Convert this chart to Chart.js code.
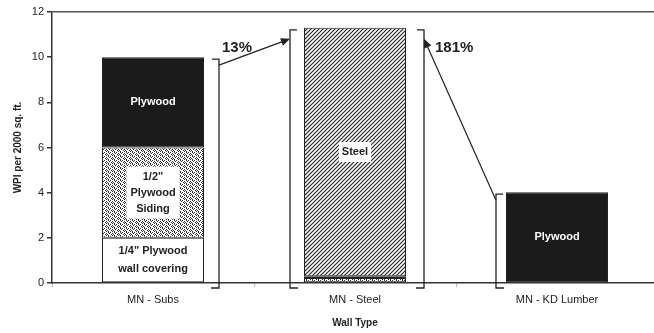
<!DOCTYPE html>
<html lang="en">
<head>
  <meta charset="UTF-8">
  <title>WPI per Wall Type</title>
  <script src="https://cdn.jsdelivr.net/npm/chart.js"></script>
  <style>
    body {
      margin: 0;
      padding: 0;
      background: #ffffff;
      overflow: hidden;
    }
    #wrap {
      width: 658px;
      height: 333px;
    }
  </style>
</head>
<body>

<div id="wrap">
  <canvas id="wpi-chart" width="658" height="333"></canvas>
</div>

<script>
  // data
  const wallTypes = ["MN - Subs", "MN - Steel", "MN - KD Lumber"];
  const wallCovering = [2.0, 0, 0];      // 1/4" plywood wall covering
  const siding = [4.0, 0.22, 0];         // 1/2" plywood siding
  const plywood = [4.0, 0.08, 4.02];     // plywood sheathing
  const steel = [0, 11.0, 0];            // steel studs
  const yTicks = [0, 2, 4, 6, 8, 10, 12];

  const wallCoveringText = ['1/4" Plywood\nwall covering', "", ""];
  const sidingText = ['1/2"\nPlywood\nSiding', "", ""];
  const plywoodText = ["Plywood", "", "Plywood"];
  const steelText = ["", "Steel", ""];

  // arrows between bars: [from, to, label]
  const changes = [[0, 1, "13%"], [2, 1, "181%"]];

  const FONT = '"Liberation Sans", Arial, sans-serif';
  const INK = "#222222";

  function dotPattern() {
    const rows = ["#.#...", ".#..#.", "...#.#", "#...#."];
    const c = document.createElement("canvas");
    c.width = 6; c.height = 4;
    const g = c.getContext("2d");
    g.fillStyle = "#ffffff";
    g.fillRect(0, 0, 6, 4);
    g.fillStyle = "#2e2e2e";
    rows.forEach((r, yy) => [...r].forEach((ch, xx) => {
      if (ch === "#") g.fillRect(xx, yy, 1, 1);
    }));
    return g.createPattern(c, "repeat");
  }

  function hatchPattern() {
    const c = document.createElement("canvas");
    c.width = 4; c.height = 4;
    const g = c.getContext("2d");
    g.fillStyle = "#ffffff";
    g.fillRect(0, 0, 4, 4);
    g.strokeStyle = "#262626";
    g.lineWidth = 1.2;
    g.beginPath();
    g.moveTo(-1, 5); g.lineTo(5, -1);
    g.moveTo(-1, 1); g.lineTo(1, -1);
    g.moveTo(3, 5); g.lineTo(5, 3);
    g.stroke();
    return g.createPattern(c, "repeat");
  }

  function totals() {
    return wallTypes.map((_, i) => wallCovering[i] + siding[i] + plywood[i] + steel[i]);
  }

  // bracket x position on a side of a bar
  function bracketX(chart, i, side) {
    const bar = chart.getDatasetMeta(0).data[i];
    const half = bar.width / 2;
    const gaps = [[0, 15], [14, 18], [10, 0]];
    return side === "left" ? bar.x - half - gaps[i][0] : bar.x + half + gaps[i][1];
  }

  const decorations = {
    id: "decorations",
    beforeDatasetsDraw(chart) {
      const { ctx, scales: { y } } = chart;
      const tot = totals();
      const sides = [["right"], ["left", "right"], ["left"]];
      ctx.save();
      ctx.strokeStyle = INK;
      ctx.lineWidth = 1.3;
      sides.forEach((list, i) => {
        const top = y.getPixelForValue(tot[i]) + 2;
        const bottom = y.getPixelForValue(0) + 5;
        list.forEach(side => {
          const bx = bracketX(chart, i, side);
          const dir = side === "left" ? 1 : -1;
          ctx.beginPath();
          ctx.moveTo(bx + dir * 7, top);
          ctx.lineTo(bx, top);
          ctx.lineTo(bx, bottom);
          ctx.lineTo(bx + dir * 8, bottom);
          ctx.stroke();
        });
      });
      ctx.restore();
    },
    afterDatasetsDraw(chart) {
      const { ctx, scales: { y } } = chart;
      const tot = totals();
      ctx.save();

      // segment labels
      const drawLines = (text, cx, cy, color, lh, box) => {
        const lines = text.split("\n");
        ctx.font = "bold 11px " + FONT;
        if (box) {
          const w = Math.max(...lines.map(l => ctx.measureText(l).width)) + box;
          const h = lines.length * lh + 4;
          ctx.fillStyle = "#ffffff";
          ctx.fillRect(cx - w / 2, cy - h / 2, w, h);
        }
        ctx.fillStyle = color;
        ctx.textAlign = "center";
        ctx.textBaseline = "middle";
        lines.forEach((l, k) => ctx.fillText(l, cx, cy + (k - (lines.length - 1) / 2) * lh));
      };
      const sets = [[wallCoveringText, 0, INK, 18, 0], [sidingText, 1, INK, 16, 8],
                    [plywoodText, 2, "#ffffff", 16, 0], [steelText, 3, INK, 16, 6]];
      sets.forEach(([texts, d, color, lh, box]) => {
        chart.getDatasetMeta(d).data.forEach((bar, i) => {
          if (!texts[i]) return;
          drawLines(texts[i], bar.x, (bar.y + bar.base) / 2, color, lh, box);
        });
      });

      // arrows with percent change
      ctx.strokeStyle = INK;
      ctx.fillStyle = INK;
      ctx.lineWidth = 1.2;
      changes.forEach(([from, to, label]) => {
        const fromSide = from < to ? "right" : "left";
        const toSide = from < to ? "left" : "right";
        const x1 = bracketX(chart, from, fromSide);
        const y1 = y.getPixelForValue(tot[from]) + 8;
        const x2 = bracketX(chart, to, toSide);
        const y2 = y.getPixelForValue(tot[to]) + 11;
        const ang = Math.atan2(y2 - y1, x2 - x1);
        ctx.beginPath();
        ctx.moveTo(x1, y1);
        ctx.lineTo(x2 - Math.cos(ang) * 6, y2 - Math.sin(ang) * 6);
        ctx.stroke();
        ctx.beginPath();
        ctx.moveTo(x2, y2);
        ctx.lineTo(x2 - Math.cos(ang) * 9 - Math.sin(ang) * 4, y2 - Math.sin(ang) * 9 + Math.cos(ang) * 4);
        ctx.lineTo(x2 - Math.cos(ang) * 9 + Math.sin(ang) * 4, y2 - Math.sin(ang) * 9 - Math.cos(ang) * 4);
        ctx.closePath();
        ctx.fill();

        ctx.font = "bold 15px " + FONT;
        ctx.textAlign = "left";
        ctx.textBaseline = "middle";
        if (from < to) ctx.fillText(label, x1 + 3, y2 + 9);
        else ctx.fillText(label, x2 + 11, y2 + 9);
      });
      ctx.restore();
    }
  };

  const ctx = document.getElementById("wpi-chart").getContext("2d");

  new Chart(ctx, {
    type: "bar",
    data: {
      labels: wallTypes,
      datasets: [
        { label: '1/4" Plywood wall covering', data: wallCovering, backgroundColor: "#ffffff" },
        { label: '1/2" Plywood Siding', data: siding, backgroundColor: dotPattern() },
        { label: "Plywood", data: plywood, backgroundColor: "#1b1b1b" },
        { label: "Steel", data: steel, backgroundColor: hatchPattern() }
      ].map(d => Object.assign(d, {
        borderColor: INK,
        borderWidth: 1,
        borderSkipped: false,
        categoryPercentage: 1,
        barPercentage: 0.505
      }))
    },
    options: {
      responsive: false,
      animation: false,
      layout: { padding: { top: 12, right: 0, bottom: 0, left: 0 } },
      plugins: {
        legend: { display: false },
        tooltip: { enabled: false }
      },
      scales: {
        x: {
          stacked: true,
          afterFit: s => { s.height = 50; },
          grid: {
            offset: true,
            drawOnChartArea: false,
            tickLength: 4,
            color: "#bbbbbb"
          },
          border: { color: "#333333", width: 1.5 },
          ticks: { color: INK, font: { family: FONT, size: 11 }, padding: 6 },
          title: {
            display: true,
            text: "Wall Type",
            color: INK,
            font: { family: FONT, size: 10, weight: "bold" },
            padding: { top: 0, bottom: 4 }
          }
        },
        y: {
          stacked: true,
          min: 0,
          max: 12,
          afterFit: s => { s.width = 52; },
          afterBuildTicks: s => { s.ticks = yTicks.map(v => ({ value: v })); },
          grid: {
            tickLength: 5,
            tickColor: "#333333",
            color: c => c.tick && c.tick.value === 12 ? "#555555" : "transparent",
            lineWidth: 1.5
          },
          border: { color: "#333333", width: 1.5 },
          ticks: { color: INK, font: { family: FONT, size: 11 }, padding: 3 },
          title: {
            display: true,
            text: "WPI per 2000 sq. ft.",
            color: INK,
            font: { family: FONT, size: 10, weight: "bold" },
            padding: { top: 12, bottom: 0 }
          }
        }
      }
    },
    plugins: [decorations]
  });
</script>

</body>
</html>
